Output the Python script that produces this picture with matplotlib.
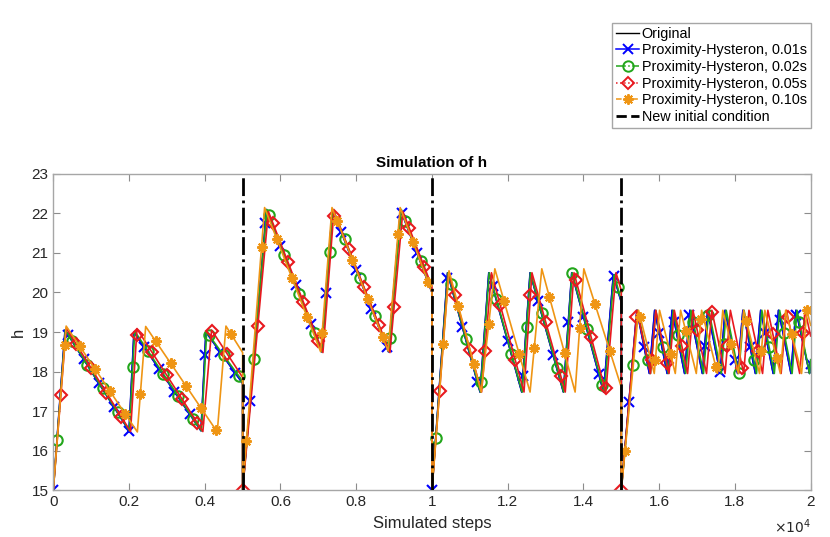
import matplotlib
matplotlib.use("Agg")
import matplotlib.pyplot as plt
from matplotlib.lines import Line2D
from matplotlib.ticker import FuncFormatter
import numpy as np

plt.rcParams.update({
    "font.family": ["Liberation Sans", "DejaVu Sans"],
    "font.size": 10.5,
})

# x in units of 1e4 simulated steps, y = tank level h (vertices of each trajectory)
BLUE_X = [0, 0.031, 0.200, 0.213, 0.390, 0.403, 0.5, 0.5,
          0.563, 0.708, 0.737, 0.885, 0.917, 1.0, 1.0,
          1.041, 1.127, 1.150, 1.237, 1.259, 1.347, 1.369, 1.453, 1.479, 1.5, 1.5,
          1.541, 1.574, 1.588, 1.621, 1.634, 1.667, 1.681, 1.714, 1.728, 1.761,
          1.774, 1.807, 1.821, 1.854, 1.868, 1.901, 1.915, 1.948, 1.961, 1.997, 2.0]
BLUE_Y = [15, 19.05, 16.5, 19.0, 16.5, 19.0, 17.7, 15,
          22.1, 18.5, 22.1, 18.5, 22.1, 20.0, 15,
          20.5, 17.48, 20.5, 17.48, 20.5, 17.48, 20.5, 17.48, 20.45, 19.75, 15,
          19.55, 17.95, 19.55, 17.95, 19.55, 17.95, 19.55, 17.95, 19.55, 17.95,
          19.55, 17.95, 19.55, 17.95, 19.55, 17.95, 19.55, 17.95, 19.55, 17.95, 18.2]

GREEN_X = [0, 0.032, 0.201, 0.215, 0.391, 0.405, 0.5, 0.5,
           0.564, 0.709, 0.739, 0.887, 0.919, 1.0, 1.0,
           1.042, 1.128, 1.151, 1.238, 1.260, 1.348, 1.370, 1.455, 1.481, 1.5, 1.5,
           1.543, 1.577, 1.591, 1.624, 1.637, 1.670, 1.684, 1.717, 1.731, 1.764,
           1.777, 1.810, 1.824, 1.857, 1.871, 1.904, 1.918, 1.951, 1.964, 1.997, 2.0]
GREEN_Y = [15, 19.05, 16.5, 19.02, 16.5, 19.0, 17.75, 15,
           22.1, 18.5, 22.1, 18.5, 22.1, 20.05, 15,
           20.5, 17.48, 20.5, 17.48, 20.5, 17.48, 20.5, 17.48, 20.45, 19.8, 15,
           19.55, 17.95, 19.55, 17.95, 19.55, 17.95, 19.55, 17.95, 19.55, 17.95,
           19.55, 17.95, 19.55, 17.95, 19.55, 17.95, 19.55, 17.95, 19.55, 17.95, 18.3]

RED_X = [0, 0.034, 0.204, 0.221, 0.395, 0.418, 0.5, 0.5,
         0.568, 0.712, 0.741, 0.889, 0.923, 1.0, 1.0,
         1.044, 1.131, 1.157, 1.243, 1.264, 1.352, 1.375, 1.459, 1.486, 1.5, 1.5,
         1.5415, 1.577, 1.591, 1.626, 1.640, 1.675, 1.689, 1.725, 1.739, 1.774,
         1.788, 1.823, 1.837, 1.873, 1.887, 1.922, 1.936, 1.971, 1.985, 2.0]
RED_Y = [15, 19.1, 16.48, 19.08, 16.48, 19.05, 17.85, 15,
         22.05, 18.48, 22.05, 18.48, 22.05, 20.15, 15,
         20.5, 17.48, 20.5, 17.48, 20.5, 17.48, 20.5, 17.48, 20.5, 20.05, 15,
         19.55, 17.95, 19.55, 17.95, 19.55, 17.95, 19.55, 17.95, 19.55, 17.95,
         19.55, 17.95, 19.55, 17.95, 19.55, 17.95, 19.55, 17.95, 19.55, 18.9]

ORANGE_X = [0, 0.034, 0.222, 0.244, 0.433, 0.456, 0.5, 0.5,
            0.558, 0.706, 0.736, 0.884, 0.916, 1.0, 1.0,
            1.045, 1.130, 1.166, 1.259, 1.290, 1.378, 1.401, 1.5, 1.5,
            1.5455, 1.587, 1.601, 1.6425, 1.6565, 1.698, 1.712, 1.754, 1.768,
            1.809, 1.823, 1.865, 1.879, 1.920, 1.934, 1.976, 1.990, 2.0]
ORANGE_Y = [15, 19.15, 16.47, 19.14, 16.47, 19.15, 18.48, 15,
            22.15, 18.5, 22.15, 18.52, 22.15, 20.0, 15,
            20.55, 17.48, 20.6, 17.48, 20.6, 17.48, 20.6, 17.6, 15,
            19.55, 17.95, 19.55, 17.95, 19.55, 17.95, 19.55, 17.95, 19.55,
            17.95, 19.55, 17.95, 19.55, 17.95, 19.55, 17.95, 19.55, 19.17]

# the original trajectory is hidden under the 0.01 s one
ORIG_X = BLUE_X
ORIG_Y = BLUE_Y

RESETS = [0.5, 1.0, 1.5]
LABELS = ["Original", "Proximity-Hysteron, 0.01s", "Proximity-Hysteron, 0.02s",
          "Proximity-Hysteron, 0.05s", "Proximity-Hysteron, 0.10s",
          "New initial condition"]

C_BLUE = "#0000ff"
C_GREEN = "#22a61b"
C_RED = "#e8191f"
C_ORANGE = "#ef9514"
ASTER = (8, 2, 0)

# (x, y, colour, marker, marker size, marker offset, legend style)
series = [
    (BLUE_X, BLUE_Y, C_BLUE, "x", 6.5, 0.00, "-"),
    (GREEN_X, GREEN_Y, C_GREEN, "o", 7.5, 0.01, "-."),
    (RED_X, RED_Y, C_RED, "D", 6.5, 0.02, ":"),
    (ORANGE_X, ORANGE_Y, C_ORANGE, ASTER, 7.5, 0.03, "--"),
]

fig = plt.figure(figsize=(8.3, 5.37), dpi=100)
ax = fig.add_axes([0.0642, 0.0875, 0.9125, 0.5885])

ax.plot(ORIG_X, ORIG_Y, color="k", lw=1.0)
handles = [Line2D([], [], color="k", lw=1.0)]
for xs, ys, col, mk, ms, off, ls in series:
    ax.plot(xs, ys, color=col, lw=1.2)
    mx = np.round(np.arange(off, 2.0001, 0.04), 4)
    my = np.interp(mx, xs, ys)
    ax.plot(mx, my, ls="none", marker=mk, ms=ms, mec=col, mfc="none", mew=1.5)
    handles.append(Line2D([], [], color=col, lw=1.1, ls=ls, marker=mk, ms=ms,
                          mec=col, mfc="none", mew=1.4))

for xr in RESETS:
    ax.axvline(xr, color="k", ls="-.", lw=2.0, zorder=5)
handles.append(Line2D([], [], color="k", ls="--", lw=2.0))

ax.set_xlim(0, 2)
ax.set_ylim(15, 23)
ax.set_xticks(np.arange(0, 2.01, 0.2))
ax.xaxis.set_major_formatter(FuncFormatter(lambda v, p: f"{v:g}"))
ax.set_yticks(range(15, 24))
ax.tick_params(direction="in", top=True, right=True, length=5, width=0.8,
               color="#8c8c8c", labelcolor="#262626", labelsize=11)
for sp in ax.spines.values():
    sp.set_color("#a6a6a6")
    sp.set_linewidth(1.0)

ax.set_title("Simulation of h", fontweight="bold", fontsize=11, pad=5)
ax.set_xlabel("Simulated steps", fontsize=12, labelpad=5, color="#262626")
ax.set_ylabel("h", fontsize=12, labelpad=4, color="#262626")
fig.text(0.977, 0.002, r"$\times10^{4}$", ha="right", va="bottom", fontsize=10,
         color="#262626")

leg = fig.legend(handles, LABELS, loc="upper right", bbox_to_anchor=(0.977, 0.958),
                 fontsize=10.4, handlelength=1.6, handletextpad=0.15,
                 labelspacing=0.18, borderpad=0.3, borderaxespad=0.0,
                 fancybox=False, framealpha=1)
leg.get_frame().set_edgecolor("#a6a6a6")
leg.get_frame().set_linewidth(1.0)

fig.savefig("out.png", dpi=100)
